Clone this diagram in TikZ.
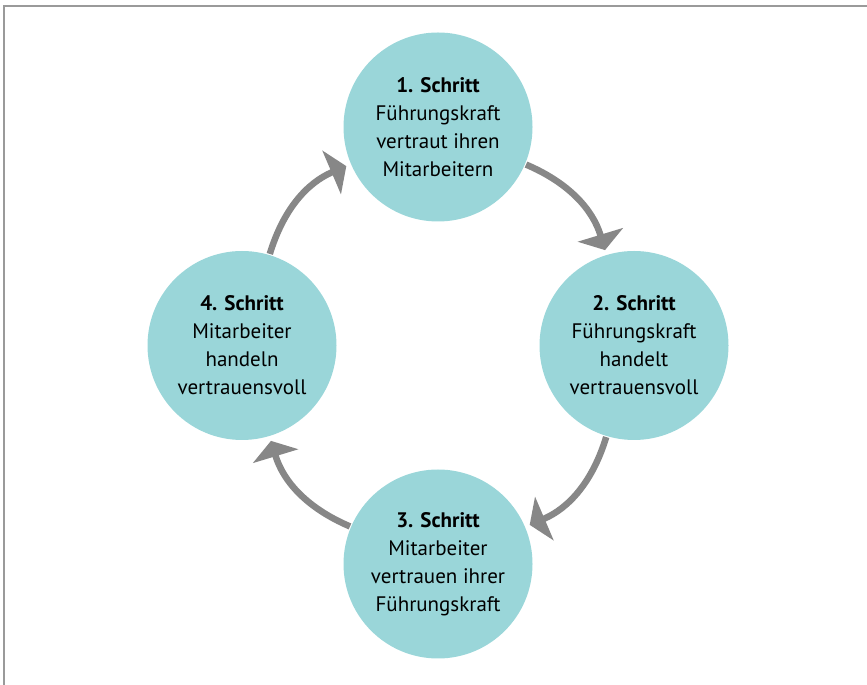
\documentclass[tikz,border=0pt]{standalone}
\usepackage{fontspec}
\setmainfont{PT Sans}
\usetikzlibrary{arrows.meta}
\definecolor{kreis}{HTML}{9AD6D9}
\definecolor{pfeilgrau}{HTML}{878787}
\definecolor{rahmengrau}{HTML}{9A9A9A}
\tikzset{
  schritt/.style={circle, fill=kreis, minimum size=189pt, inner sep=0pt,
    align=center, font=\fontsize{21}{28}\selectfont},
  pfeil/.style={draw=pfeilgrau, line width=6.5pt,
    -{Triangle[length=16pt,width=47pt]}, shorten <=1pt, shorten >=5pt},
}
\begin{document}
\begin{tikzpicture}[x=1pt,y=1pt]
  \useasboundingbox (0,0) rectangle (867,685);
  \draw[rahmengrau, line width=2pt] (4,0) -- (4,679) -- (867,679);
  \begin{scope}[shift={(438,339.5)}]
    \draw
      (0,218.5) node[schritt] (s1) {\textbf{1. Schritt}\\Führungskraft\\vertraut ihren\\Mitarbeitern}
      (196,0) node[schritt] (s2) {\textbf{2. Schritt}\\Führungskraft\\handelt\\vertrauensvoll}
      (0,-218.5) node[schritt] (s3) {\textbf{3. Schritt}\\Mitarbeiter\\vertrauen ihrer\\Führungskraft}
      (-196,0) node[schritt] (s4) {\textbf{4. Schritt}\\Mitarbeiter\\handeln\\vertrauensvoll};
    \begin{scope}[pfeil]
      \draw (s1) to[bend left=25] (s2);
      \draw (s2) to[bend left=25] (s3);
      \draw (s3) to[bend left=25] (s4);
      \draw (s4) to[bend left=25] (s1);
    \end{scope}
  \end{scope}
\end{tikzpicture}
\end{document}
